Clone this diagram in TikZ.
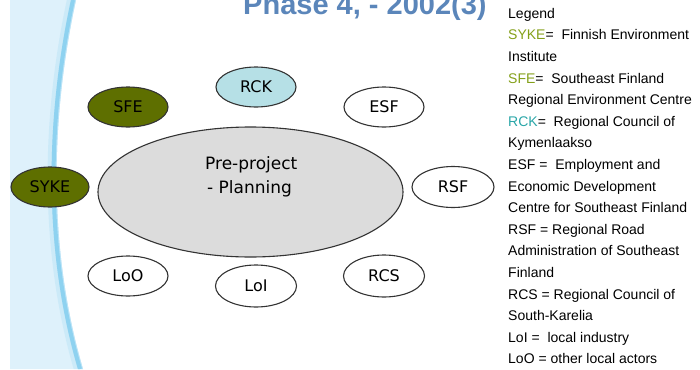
\documentclass[tikz,border=0pt]{standalone}
\usepackage{fontspec}
\setmainfont{Liberation Sans}
\newfontfamily\dvs{DejaVu Sans}
\usetikzlibrary{shapes.geometric}
\definecolor{bandlight}{HTML}{DEF1FB}
\definecolor{bandmid}{HTML}{BCE4F7}
\definecolor{banddark}{HTML}{8ED2F0}
\definecolor{olivefill}{HTML}{5E6F00}
\definecolor{rckfill}{HTML}{B6E0E6}
\definecolor{bigfill}{HTML}{DCDCDC}
\definecolor{titleblue}{HTML}{5B86BA}
\definecolor{sykcol}{HTML}{84A01A}
\definecolor{rckcol}{HTML}{2AA6A8}
\tikzset{
  actor/.style={ellipse, draw=black!80, line width=1.1pt, minimum width=80pt, minimum height=40pt, inner sep=0pt, font=\dvs\fontsize{16}{18}\selectfont},
  olive/.style={actor, fill=olivefill},
  plain/.style={actor, fill=white},
  legendtext/.style={align=left, inner sep=0pt, anchor=north west, font=\fontsize{14}{21.6}\selectfont}
}
\begin{document}
\begin{tikzpicture}[x=1pt,y=-1pt]
\useasboundingbox (0,0) rectangle (700,369);
% left band
\fill[bandlight] (10,0) -- (76,0) .. controls (50,120) and (48,250) .. (83,369) -- (10,369) -- cycle;
\begin{scope}
\clip (10,0) -- (76,0) .. controls (50,120) and (48,250) .. (83,369) -- (10,369) -- cycle;
\draw[line width=18pt, bandmid, opacity=0.5] (76,0) .. controls (50,120) and (48,250) .. (83,369);
\draw[line width=10pt, bandmid] (76,0) .. controls (50,120) and (48,250) .. (83,369);
\draw[line width=4pt, banddark, xshift=-3pt] (76,0) .. controls (50,120) and (48,250) .. (83,369);
\end{scope}
% title (cut off at the top edge, as in the reference)
\node[anchor=base west, inner sep=0pt, text=titleblue, font=\bfseries\fontsize{29}{32}\selectfont] (title) at (243,15) {Phase 4, - 2002(3)};
% big ellipse
\node[ellipse, draw=black!80, line width=1.1pt, fill=bigfill, minimum width=305pt, minimum height=130pt, inner sep=0pt] (pp) at (250.5,192) {};
\node[align=left, inner sep=0pt, anchor=north west, font=\dvs\fontsize{17}{24}\selectfont] (pptext) at (205,156.6) {Pre-project\\ \hspace{2pt}- Planning};
% actors
\node[olive] (sfe) at (128,107) {SFE};
\node[olive, minimum width=78pt] (syke) at (50,187) {SYKE};
\node[actor, fill=rckfill] (rck) at (256,87) {RCK};
\node[plain] (esf) at (384,107) {ESF};
\node[plain, minimum width=82pt, minimum height=41pt] (rsf) at (453,187) {RSF};
\node[plain] (loo) at (128,276) {LoO};
\node[plain, minimum width=81pt, minimum height=42pt] (loi) at (256,286) {LoI};
\node[plain, minimum width=81pt, minimum height=42pt] (rcs) at (384,276) {RCS};
% legend
\node[legendtext] (legend) at (508,8) {Legend\\
{\color{sykcol}SYKE}= \ Finnish Environment\\
Institute\\
{\color{sykcol}SFE}= \ Southeast Finland\\
Regional Environment Centre\\
{\color{rckcol}RCK}= \ Regional Council of\\
Kymenlaakso\\
ESF = \ Employment and\\
Economic Development\\
Centre for Southeast Finland\\
RSF = Regional Road\\
Administration of Southeast\\
Finland\\
RCS = Regional Council of\\
South-Karelia\\
LoI = \ local industry\\
LoO = other local actors};
\end{tikzpicture}
\end{document}
